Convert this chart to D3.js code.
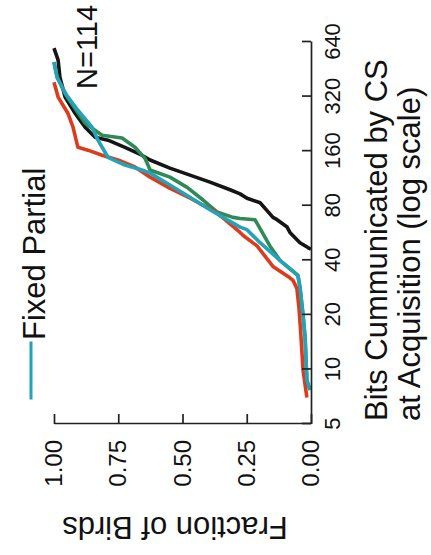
<!DOCTYPE html>
<html><head><meta charset="utf-8">
<script src="https://cdn.jsdelivr.net/npm/d3@7"></script>
<style>
body{margin:0;background:#fff}
svg{display:block;background:#fff}
text{font-family:Arial,"Liberation Sans",Helvetica,sans-serif;fill:#111}
</style>
</head><body>
<svg id="chart" width="431" height="555"></svg>
<script>
// ---- data ----
const bitTicks = [5, 10, 20, 40, 80, 160, 320, 640];
const fracTicks = [0, 0.25, 0.5, 0.75, 1];
const fracTickLabels = ["0.00", "0.25", "0.50", "0.75", "1.00"];
const seriesNames = ["black", "green", "red", "Fixed Partial"];
const seriesColors = ["#151515", "#2f8a58", "#dc3c1e", "#24a2b8"];

const blackBits = [46, 47, 50, 57, 61, 67, 69, 83, 88, 93, 98, 108, 118, 129, 143, 152, 168, 184, 191, 217, 259, 318, 409, 508, 592];
const blackFrac = [0, 0.012, 0.043, 0.082, 0.093, 0.132, 0.148, 0.198, 0.249, 0.276, 0.315, 0.393, 0.471, 0.549, 0.626, 0.658, 0.724, 0.79, 0.84, 0.879, 0.918, 0.957, 0.977, 0.984, 1];

const greenBits = [7.7, 8.7, 15, 20, 28.5, 33, 40, 48, 67, 68, 69, 74, 86, 101, 115, 126, 146, 168, 189, 196, 228, 314, 409, 495];
const greenFrac = [0.004, 0.016, 0.023, 0.031, 0.043, 0.051, 0.121, 0.16, 0.218, 0.276, 0.304, 0.366, 0.42, 0.482, 0.549, 0.626, 0.646, 0.685, 0.735, 0.813, 0.879, 0.946, 0.988, 1];

const redBits = [7, 9.9, 16, 22, 28, 31, 32, 37, 48, 55, 57, 73, 88, 100, 115, 131, 143, 152, 162, 168, 217, 259, 318, 384];
const redFrac = [0.016, 0.031, 0.04, 0.047, 0.055, 0.07, 0.082, 0.148, 0.21, 0.265, 0.276, 0.366, 0.47, 0.55, 0.626, 0.685, 0.751, 0.813, 0.868, 0.907, 0.926, 0.946, 0.984, 1];

const tealBits = [7.7, 8.7, 15, 20, 28.5, 33, 40, 50, 59, 61, 67, 76, 89, 104, 121, 126, 134, 148, 184, 217, 269, 334, 409, 495];
const tealFrac = [0.004, 0.016, 0.023, 0.031, 0.043, 0.051, 0.121, 0.198, 0.249, 0.276, 0.327, 0.393, 0.471, 0.549, 0.626, 0.658, 0.724, 0.79, 0.829, 0.852, 0.907, 0.957, 0.988, 1];

// ---- chart (drawn in an unrotated frame, then rotated -90deg) ----
const svg = d3.select("#chart");
const g = svg.append("g").attr("transform", "translate(0,555) rotate(-90)");

const x = d3.scaleLog().base(2).domain([5, 640]).range([131, 513]);
const y = d3.scaleLinear().domain([0, 1]).range([311, 54]);

const seriesBits = [blackBits, greenBits, redBits, tealBits];
const seriesFrac = [blackFrac, greenFrac, redFrac, tealFrac];

const line = d3.line().x(d => x(d[0])).y(d => y(d[1]));

seriesNames.forEach((name, i) => {
  const pts = seriesBits[i].map((b, j) => [b, seriesFrac[i][j]]);
  g.append("path")
    .datum(pts)
    .attr("fill", "none")
    .attr("stroke", seriesColors[i])
    .attr("stroke-width", 3.6)
    .attr("stroke-linejoin", "round")
    .attr("stroke-linecap", "butt")
    .attr("d", line);
});

// bits axis (appears on the right after rotation)
const xAxis = g.append("g")
  .attr("transform", "translate(0,311)")
  .call(d3.axisBottom(x).tickValues(bitTicks).tickFormat(d3.format("d"))
    .tickSizeInner(-9).tickSizeOuter(0).tickPadding(13));
xAxis.selectAll("text").style("font-size", "22px").attr("fill", "#111");

// fraction axis (appears at the bottom after rotation)
const yAxis = g.append("g")
  .attr("transform", "translate(131,0)")
  .call(d3.axisLeft(y).tickValues(fracTicks).tickFormat((d, i) => fracTickLabels[i])
    .tickSizeInner(-10).tickSizeOuter(0).tickPadding(16));
yAxis.selectAll("text").style("font-size", "24px").attr("fill", "#111");

[xAxis, yAxis].forEach(a => {
  a.selectAll("path,line").attr("stroke", "#222").attr("stroke-width", 1.7);
});

// axis titles
g.append("text").attr("x", 134).attr("y", 387)
  .style("font-size", "31px").text("Bits Cummunicated by CS");
g.append("text").attr("x", 134).attr("y", 420)
  .style("font-size", "31px").text("at Acquisition (log scale)");

g.append("text")
  .attr("transform", "translate(38,175) rotate(-90)")
  .attr("text-anchor", "middle")
  .style("font-size", "31px").text("Fraction of Birds");

// legend
g.append("line").attr("x1", x(7.0) - 2).attr("x2", x(7.0) + 58 - 2)
  .attr("y1", 31).attr("y2", 31)
  .attr("stroke", seriesColors[3]).attr("stroke-width", 3);
g.append("text").attr("x", 215).attr("y", 45)
  .style("font-size", "31px").text(seriesNames[3]);

// N label
g.append("text").attr("x", 466).attr("y", 97)
  .style("font-size", "29px").text("N=114");
</script>
</body></html>
